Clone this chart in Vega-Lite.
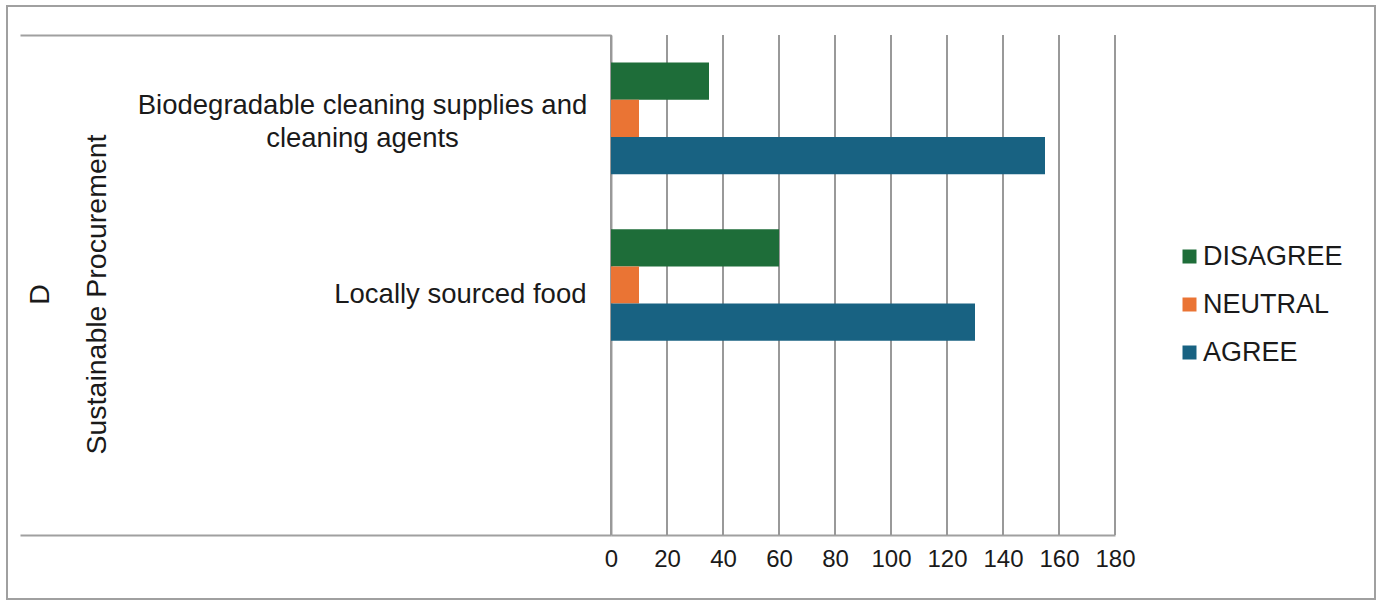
{
  "$schema": "https://vega.github.io/schema/vega-lite/v6.json",
  "width": 1368,
  "height": 593,
  "autosize": {"type": "none"},
  "padding": {"left": 7, "top": 6, "right": 3, "bottom": 2},
  "config": {
    "view": {"stroke": "#a0a0a0", "strokeWidth": 2},
    "font": "Liberation Sans"
  },
  "datasets": {
    "survey": [
      {"item": "Biodegradable cleaning supplies and cleaning agents", "response": "DISAGREE", "count": 35},
      {"item": "Biodegradable cleaning supplies and cleaning agents", "response": "NEUTRAL", "count": 10},
      {"item": "Biodegradable cleaning supplies and cleaning agents", "response": "AGREE", "count": 155},
      {"item": "Locally sourced food", "response": "DISAGREE", "count": 60},
      {"item": "Locally sourced food", "response": "NEUTRAL", "count": 10},
      {"item": "Locally sourced food", "response": "AGREE", "count": 130}
    ],
    "gridticks": [{"v": 0}, {"v": 20}, {"v": 40}, {"v": 60}, {"v": 80}, {"v": 100}, {"v": 120}, {"v": 140}, {"v": 160}, {"v": 180}]
  },
  "layer": [
    {
      "data": {"name": "gridticks"},
      "mark": {"type": "rule", "color": "#999999", "strokeWidth": 2},
      "encoding": {
        "x": {
          "field": "v",
          "type": "quantitative",
          "scale": {"domain": [0, 180], "range": [604, 1108], "nice": false},
          "axis": {
            "orient": "bottom",
            "offset": -64,
            "values": [0, 20, 40, 60, 80, 100, 120, 140, 160, 180],
            "grid": false,
            "domain": true,
            "domainColor": "#a0a0a0",
            "domainWidth": 2,
            "ticks": false,
            "tickSize": 0,
            "labelFontSize": 24,
            "labelColor": "#1a1a1a",
            "labelPadding": 12,
            "labelFlush": false,
            "labelOverlap": false,
            "title": null
          }
        },
        "y": {
          "datum": 0,
          "type": "quantitative",
          "scale": {"domain": [0, 1], "range": [529, 29], "nice": false, "zero": false},
          "axis": {
            "orient": "left",
            "offset": -604,
            "values": [0, 1],
            "labels": false,
            "domain": false,
            "grid": false,
            "ticks": true,
            "tickSize": 591,
            "tickColor": "#a0a0a0",
            "tickWidth": 2,
            "title": null
          }
        },
        "y2": {"datum": 1}
      }
    },
    {
      "data": {"name": "survey"},
      "mark": {"type": "bar"},
      "encoding": {
        "y": {
          "field": "item",
          "type": "nominal",
          "scale": {
            "domain": ["Biodegradable cleaning supplies and cleaning agents", "Locally sourced food", " "],
            "range": [29, 529],
            "paddingInner": 0.33,
            "paddingOuter": 0.165
          },
          "axis": {
            "orient": "left",
            "offset": -604,
            "domain": true,
            "domainColor": "#a0a0a0",
            "domainWidth": 2,
            "ticks": false,
            "tickSize": 0,
            "grid": false,
            "labelFontSize": 27.5,
            "labelColor": "#1a1a1a",
            "labelLimit": 600,
            "labelLineHeight": 33,
            "labelExpr": "datum.value == 'Biodegradable cleaning supplies and cleaning agents' ? ['Biodegradable cleaning supplies and', 'cleaning agents'] : datum.value",
            "labelAlign": {"condition": {"test": "datum.value == 'Locally sourced food'", "value": "right"}, "value": "center"},
            "labelPadding": {"condition": {"test": "datum.value == 'Locally sourced food'", "value": 25}, "value": 249},
            "labelOffset": {"condition": {"test": "datum.value == 'Locally sourced food'", "value": 10}, "value": -12},
            "title": ["D", "Sustainable Procurement"],
            "titleFontSize": 28.5,
            "titleFontWeight": "normal",
            "titleColor": "#1a1a1a",
            "titleLineHeight": 57,
            "titleAngle": 270,
            "titleAlign": "center",
            "titleBaseline": "middle",
            "titleX": -572,
            "titleY": 288
          }
        },
        "yOffset": {
          "field": "response",
          "type": "nominal",
          "sort": ["DISAGREE", "NEUTRAL", "AGREE"],
          "scale": {"paddingInner": 0, "paddingOuter": 0}
        },
        "x": {
          "field": "count",
          "type": "quantitative",
          "scale": {"domain": [0, 180], "range": [604, 1108], "nice": false},
          "axis": {
            "orient": "bottom",
            "offset": -64,
            "values": [0, 20, 40, 60, 80, 100, 120, 140, 160, 180],
            "grid": false,
            "domain": true,
            "domainColor": "#a0a0a0",
            "domainWidth": 2,
            "ticks": false,
            "tickSize": 0,
            "labelFontSize": 24,
            "labelColor": "#1a1a1a",
            "labelPadding": 12,
            "labelFlush": false,
            "labelOverlap": false,
            "title": null
          }
        },
        "color": {
          "field": "response",
          "type": "nominal",
          "scale": {"domain": ["DISAGREE", "NEUTRAL", "AGREE"], "range": ["#1e6d39", "#ea7434", "#186282"]},
          "legend": {
            "orient": "none",
            "legendX": 1169,
            "legendY": 237,
            "title": null,
            "symbolType": "square",
            "symbolSize": 196,
            "symbolStrokeWidth": 0,
            "labelFontSize": 27,
            "labelColor": "#1a1a1a",
            "rowPadding": 20,
            "labelOffset": 0,
            "padding": 0
          }
        }
      }
    }
  ],
  "resolve": {"scale": {"y": "independent"}}
}
